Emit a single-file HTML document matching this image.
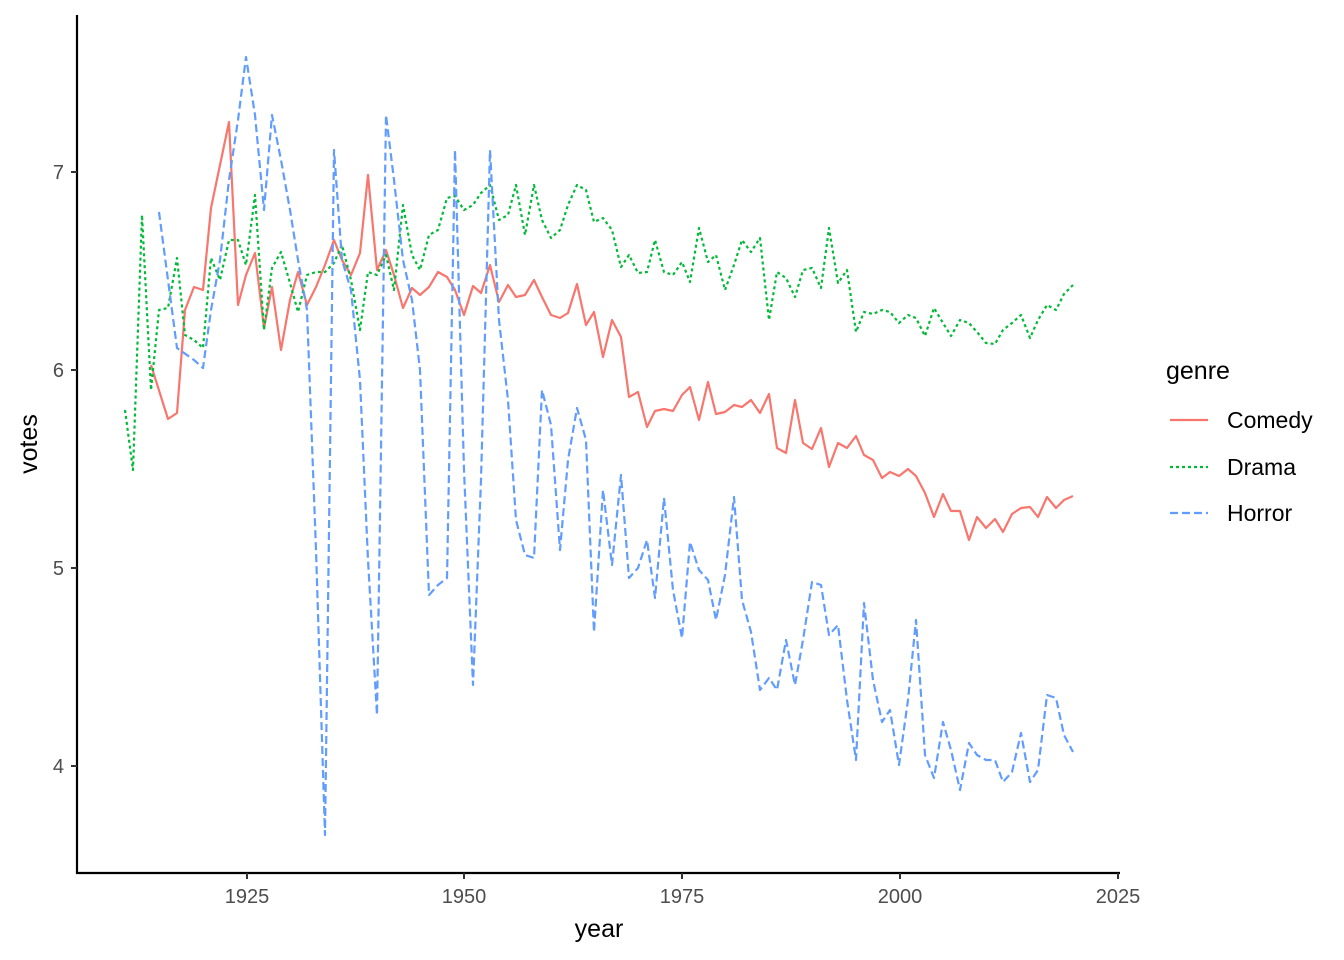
<!DOCTYPE html>
<html><head><meta charset="utf-8"><style>html,body{margin:0;padding:0;background:#fff}svg{display:block}</style></head>
<body>
<svg width="1344" height="960" xmlns="http://www.w3.org/2000/svg" font-family="Liberation Sans, sans-serif">
<rect width="1344" height="960" fill="#fff"/>
<g fill="none" stroke-width="2.2" stroke-linejoin="round">
<polyline stroke="#F8766D" points="151,365 168,419 177,413 185,310 194,287 203,290 211,208 220,165 229,122 238,305 246,275 255,253 264,328 272,287 281,350 290,300 298,272 307,305 316,287 325,265 334,240 342,260 351,275 360,253 368,175 377,270 386,250 394,275 403,308 412,288 420,295 429,287 438,272 447,277 455,290 464,315 473,286 481,293 490,265 499,302 508,285 516,297 525,295 534,280 542,297 551,315 560,318 568,313 577,284 586,325 594,312 603,357 612,320 621,337 629,397 638,392 647,427 655,411 664,409 673,411 682,395 690,387 699,420 708,382 716,414 725,412 734,405 742,407 751,400 760,413 769,394 777,448 786,453 795,400 803,443 812,449 821,428 829,467 838,443 847,448 856,436 864,455 873,460 882,478 890,472 899,476 908,469 916,476 925,493 934,517 943,494 951,511 960,511 969,540 977,517 986,528 995,519 1003,532 1012,514 1021,508 1030,507 1038,517 1047,497 1056,508 1064,500 1073,496"/>
<polyline stroke="#00BA38" stroke-dasharray="3,3" points="125,410 133,470 142,215 151,390 159,310 168,308 177,258 185,335 194,340 203,348 211,258 220,280 229,240 238,240 246,265 255,195 264,330 272,268 281,252 290,283 298,312 307,275 316,272 325,272 334,263 342,245 351,280 360,330 368,272 377,275 386,255 394,290 403,205 412,255 420,270 429,235 438,230 447,198 455,196 464,210 473,205 481,193 490,185 499,220 508,215 516,185 525,235 534,185 542,220 551,238 560,230 568,205 577,185 586,190 594,222 603,218 612,230 621,267 629,255 638,273 647,272 655,240 664,272 673,275 682,262 690,282 699,228 708,262 716,255 725,290 734,265 742,240 751,252 760,238 769,320 777,272 786,278 795,297 803,270 812,268 821,288 829,228 838,283 847,270 856,332 864,312 873,314 882,310 890,312 899,323 908,315 916,318 925,336 934,308 943,323 951,336 960,320 969,323 977,332 986,343 995,344 1003,330 1012,323 1021,315 1030,338 1038,320 1047,305 1056,310 1064,294 1073,285"/>
<polyline stroke="#619CFF" stroke-dasharray="8,4" points="159,212 168,280 177,348 194,360 203,368 211,310 220,260 229,180 238,120 246,57 255,115 264,210 272,115 281,160 290,210 298,260 307,310 316,550 325,835 334,150 342,260 351,290 360,380 368,560 377,715 386,115 394,180 403,260 412,300 420,370 429,595 438,585 447,578 455,150 464,470 473,685 481,480 490,150 499,320 508,400 516,520 525,555 534,558 542,390 551,425 560,550 568,460 577,408 586,440 594,632 603,490 612,565 621,475 629,578 638,568 647,540 655,598 664,498 673,590 682,638 690,542 699,570 708,580 716,620 725,575 734,497 742,600 751,632 760,690 769,678 777,690 786,640 795,685 803,640 812,582 821,585 829,635 838,625 847,700 856,760 864,603 873,680 882,722 890,710 899,765 908,700 916,620 925,755 934,778 943,722 951,750 960,790 969,743 977,755 986,760 995,760 1003,782 1012,772 1021,733 1030,782 1038,770 1047,695 1056,698 1064,735 1073,752"/>
</g>
<g stroke="#000" stroke-width="2.2"><line x1="77" y1="15" x2="77" y2="874"/><line x1="76" y1="873" x2="1120" y2="873"/></g>
<g stroke="#333" stroke-width="2"><line x1="71" y1="172" x2="77" y2="172"/><line x1="71" y1="370" x2="77" y2="370"/><line x1="71" y1="568" x2="77" y2="568"/><line x1="71" y1="766" x2="77" y2="766"/>
<line x1="247" y1="873" x2="247" y2="879"/><line x1="464" y1="873" x2="464" y2="879"/><line x1="682" y1="873" x2="682" y2="879"/><line x1="900" y1="873" x2="900" y2="879"/><line x1="1118" y1="873" x2="1118" y2="879"/></g>
<g fill="#4d4d4d" font-size="20" text-anchor="end"><text x="64" y="179">7</text><text x="64" y="377">6</text><text x="64" y="575">5</text><text x="64" y="773">4</text></g>
<g fill="#4d4d4d" font-size="20" text-anchor="middle"><text x="247" y="903">1925</text><text x="464" y="903">1950</text><text x="682" y="903">1975</text><text x="900" y="903">2000</text><text x="1118" y="903">2025</text></g>
<text x="599" y="937" font-size="25" text-anchor="middle">year</text>
<text transform="translate(37,444) rotate(-90)" font-size="25" text-anchor="middle">votes</text>
<text x="1166" y="379" font-size="25">genre</text>
<g stroke-width="2.2"><line x1="1170" y1="420" x2="1208" y2="420" stroke="#F8766D"/><line x1="1170" y1="467" x2="1208" y2="467" stroke="#00BA38" stroke-dasharray="3,3"/><line x1="1170" y1="513" x2="1208" y2="513" stroke="#619CFF" stroke-dasharray="8,4"/></g>
<g font-size="23"><text x="1227" y="428">Comedy</text><text x="1227" y="475">Drama</text><text x="1227" y="521">Horror</text></g>
</svg>
</body></html>
